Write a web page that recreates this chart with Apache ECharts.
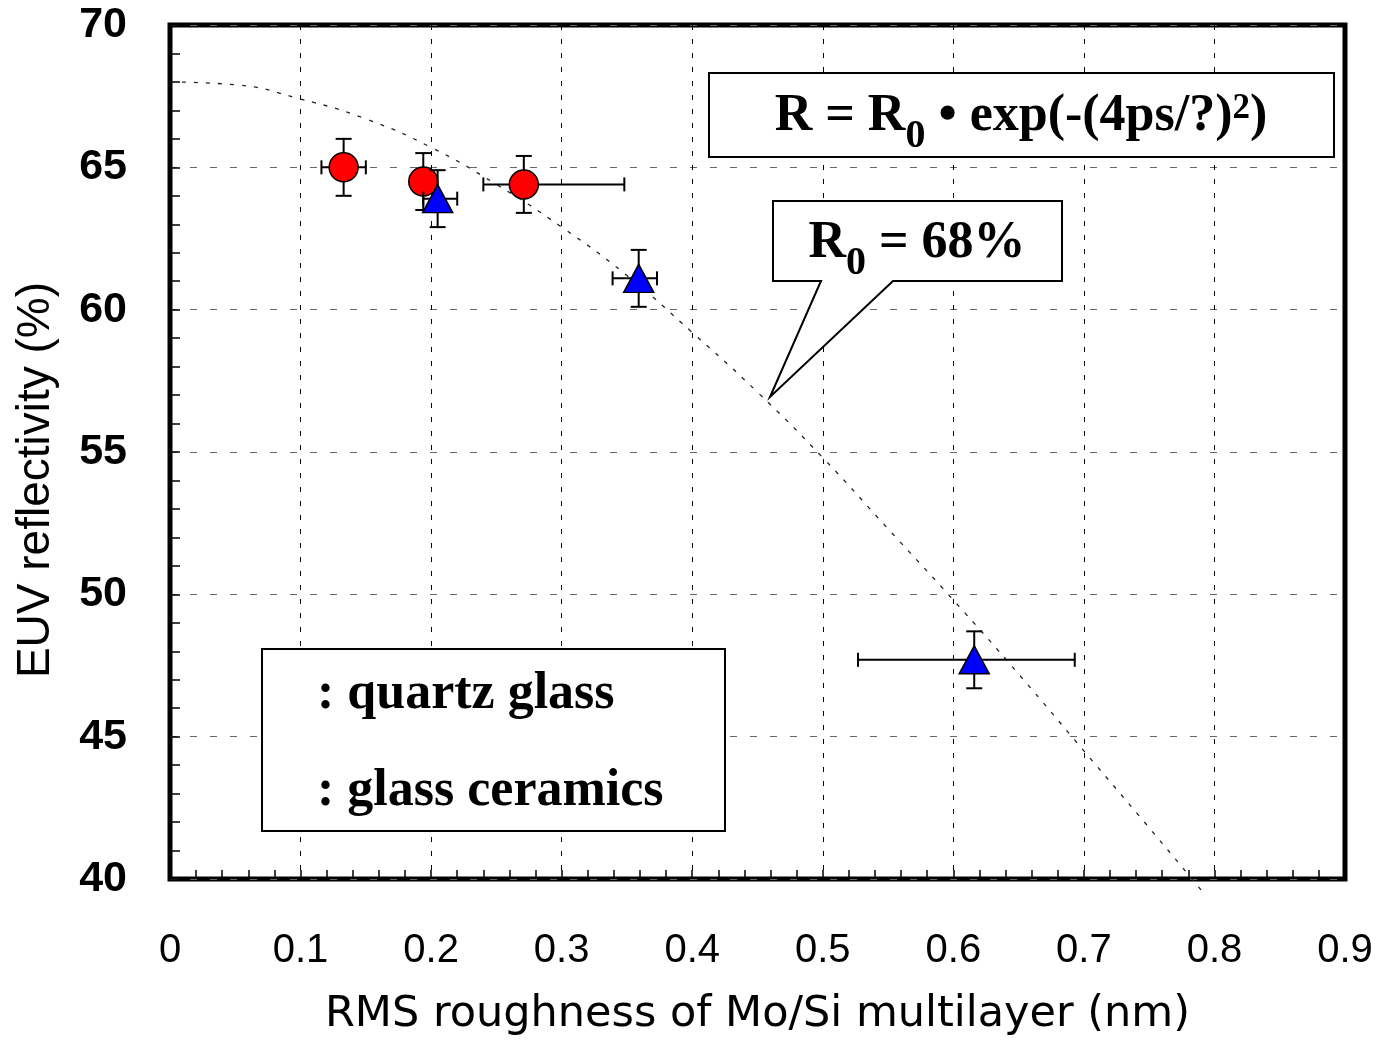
<!DOCTYPE html>
<html>
<head>
<meta charset="utf-8">
<title>EUV reflectivity vs RMS roughness</title>
<script src="https://cdn.jsdelivr.net/npm/echarts@6/dist/echarts.min.js"></script>
<style>
  html, body { margin: 0; padding: 0; background: #fff; }
  #chart { width: 1380px; height: 1042px; }
</style>
</head>
<body>
<div id="chart"></div>
<script>
// dotted fit curve (R0 = 68%)
const curveX = [0, 0.05, 0.1, 0.15, 0.2, 0.25, 0.3, 0.35, 0.4, 0.45, 0.5, 0.55, 0.6, 0.65, 0.7, 0.75, 0.79]
const curveY = [68.0, 67.9, 67.4, 66.7, 65.7, 64.4, 62.9, 61.2, 59.2, 57.1, 54.8, 52.3, 49.8, 47.2, 44.5, 41.8, 39.6]

// quartz glass (red circles)
const quartzX = [0.133, 0.194, 0.271]
const quartzY = [65.0, 64.5, 64.4]
const quartzXErrMinus = [0.017, 0.008, 0.031]
const quartzXErrPlus = [0.017, 0.008, 0.077]
const quartzYErr = [1.0, 1.0, 1.0]

// glass ceramics (blue triangles)
const ceramicsX = [0.205, 0.359, 0.616]
const ceramicsY = [63.9, 61.1, 47.7]
const ceramicsXErrMinus = [0.011, 0.020, 0.089]
const ceramicsXErrPlus = [0.015, 0.014, 0.077]
const ceramicsYErr = [1.0, 1.0, 1.0]

const legendLabels = [': quartz glass', ': glass ceramics']

const SANS = '"Liberation Sans", Arial, sans-serif'
const SERIF = '"Liberation Serif", "Times New Roman", serif'

function errorRows(xs, ys, xm, xp, ye) {
  return xs.map((x, i) => [x, ys[i], x - xm[i], x + xp[i], ys[i] - ye[i], ys[i] + ye[i]])
}

function renderErrorBars(params, api) {
  const x = api.value(0)
  const y = api.value(1)
  const left = api.coord([api.value(2), y])
  const right = api.coord([api.value(3), y])
  const top = api.coord([x, api.value(5)])
  const bottom = api.coord([x, api.value(4)])
  const capH = 7
  const capV = 8
  const seg = (x1, y1, x2, y2) => ({
    type: 'line',
    shape: { x1, y1, x2, y2 },
    style: { stroke: '#000', lineWidth: 2 },
  })
  return {
    type: 'group',
    children: [
      seg(left[0], left[1], right[0], right[1]),
      seg(left[0], left[1] - capH, left[0], left[1] + capH),
      seg(right[0], right[1] - capH, right[0], right[1] + capH),
      seg(top[0], top[1], bottom[0], bottom[1]),
      seg(top[0] - capV, top[1], top[0] + capV, top[1]),
      seg(bottom[0] - capV, bottom[1], bottom[0] + capV, bottom[1]),
    ],
  }
}

const serifBold = (size) => ({ fontFamily: SERIF, fontWeight: 'bold', fontSize: size, fill: '#000' })

const chart = echarts.init(document.getElementById('chart'))

chart.setOption({
  animation: false,
  backgroundColor: '#fff',
  grid: {
    left: 170, right: 35, top: 25, bottom: 163,
    show: true, borderColor: '#000', borderWidth: 5, backgroundColor: '#fff',
  },
  xAxis: {
    type: 'value',
    min: 0, max: 0.9, interval: 0.1,
    name: 'RMS roughness of Mo/Si multilayer (nm)',
    nameLocation: 'middle',
    nameGap: 114,
    nameTextStyle: { fontFamily: '"DejaVu Sans", sans-serif', fontSize: 43, color: '#000' },
    axisLine: { show: false },
    axisTick: { show: true, inside: true, length: 9, lineStyle: { color: '#000', width: 1.5 } },
    minorTick: { show: true, splitNumber: 5, length: 9, lineStyle: { color: '#000', width: 1.5 } },
    axisLabel: { margin: 52, fontFamily: SANS, fontSize: 40, color: '#000', formatter: (v) => String(+v.toFixed(1)) },
    splitLine: { show: true, lineStyle: { color: '#000', width: 1, type: [5, 9] } },
  },
  yAxis: {
    type: 'value',
    min: 40, max: 70, interval: 5,
    axisLine: { show: false },
    axisTick: { show: true, inside: true, length: 10, lineStyle: { color: '#000', width: 1.5 } },
    minorTick: { show: true, splitNumber: 5, length: 10, lineStyle: { color: '#000', width: 1.5 } },
    axisLabel: { margin: 43, fontFamily: SANS, fontWeight: 'bold', fontSize: 43, color: '#000' },
    splitLine: { show: true, lineStyle: { color: '#666', width: 1.2, type: [7, 13] } },
  },
  series: [
    {
      name: 'fit',
      type: 'line',
      data: curveX.map((x, i) => [x, curveY[i]]),
      smooth: true,
      showSymbol: false,
      clip: false,
      lineStyle: { color: '#222', width: 1.3, type: [4, 8] },
      z: 3,
    },
    {
      name: 'quartz error',
      type: 'custom',
      renderItem: renderErrorBars,
      encode: { x: [0, 2, 3], y: [1, 4, 5] },
      data: errorRows(quartzX, quartzY, quartzXErrMinus, quartzXErrPlus, quartzYErr),
      z: 4,
    },
    {
      name: 'quartz glass',
      type: 'scatter',
      data: quartzX.map((x, i) => [x, quartzY[i]]),
      symbol: 'circle',
      symbolSize: 29,
      itemStyle: { color: '#ff0000', borderColor: '#000', borderWidth: 1.5, opacity: 1 },
      z: 5,
    },
    {
      name: 'ceramics error',
      type: 'custom',
      renderItem: renderErrorBars,
      encode: { x: [0, 2, 3], y: [1, 4, 5] },
      data: errorRows(ceramicsX, ceramicsY, ceramicsXErrMinus, ceramicsXErrPlus, ceramicsYErr),
      z: 6,
    },
    {
      name: 'glass ceramics',
      type: 'scatter',
      data: ceramicsX.map((x, i) => [x, ceramicsY[i]]),
      symbol: 'triangle',
      symbolSize: [30, 28],
      itemStyle: { color: '#0000ff', borderColor: '#000', borderWidth: 1.5, opacity: 1 },
      z: 7,
    },
  ],
  graphic: [
    // y axis title, a little below the plot's centre as in the source
    {
      type: 'text', z: 101, x: 36, y: 480, rotation: Math.PI / 2,
      style: {
        text: 'EUV reflectivity (%)', fontFamily: SANS, fontSize: 46, fill: '#000',
        align: 'center', verticalAlign: 'middle',
      },
    },
    // formula box
    {
      type: 'rect', z: 100,
      shape: { x: 709, y: 73, width: 625, height: 84 },
      style: { fill: '#fff', stroke: '#000', lineWidth: 2 },
    },
    {
      type: 'text', z: 101, x: 1021, y: 117,
      style: Object.assign(serifBold(52), {
        text: 'R = R{sub|0} • exp(-(4ps/?){sup|2})',
        align: 'center', verticalAlign: 'middle', lineHeight: 80,
        rich: {
          sub: Object.assign(serifBold(40), { verticalAlign: 'bottom', lineHeight: 52 }),
          sup: Object.assign(serifBold(35), { verticalAlign: 'top', lineHeight: 40, padding: [14, 0, 0, 0] }),
        },
      }),
    },
    // R0 callout
    {
      type: 'polygon', z: 100,
      shape: { points: [[773, 201], [1062, 201], [1062, 281], [893, 281], [770, 397], [821, 281], [773, 281]] },
      style: { fill: '#fff', stroke: '#000', lineWidth: 2 },
    },
    {
      type: 'text', z: 101, x: 917, y: 244,
      style: Object.assign(serifBold(52), {
        text: 'R{sub|0} = 68%',
        align: 'center', verticalAlign: 'middle', lineHeight: 80,
        rich: {
          sub: Object.assign(serifBold(40), { verticalAlign: 'bottom', lineHeight: 52 }),
        },
      }),
    },
    // legend box
    {
      type: 'rect', z: 100,
      shape: { x: 262, y: 649, width: 463, height: 182 },
      style: { fill: '#fff', stroke: '#000', lineWidth: 2 },
    },
    {
      type: 'text', z: 101, x: 317, y: 695,
      style: Object.assign(serifBold(52), { text: legendLabels[0], align: 'left', verticalAlign: 'middle' }),
    },
    {
      type: 'text', z: 101, x: 317, y: 792,
      style: Object.assign(serifBold(52), { text: legendLabels[1], align: 'left', verticalAlign: 'middle' }),
    },
  ],
})
</script>
</body>
</html>
